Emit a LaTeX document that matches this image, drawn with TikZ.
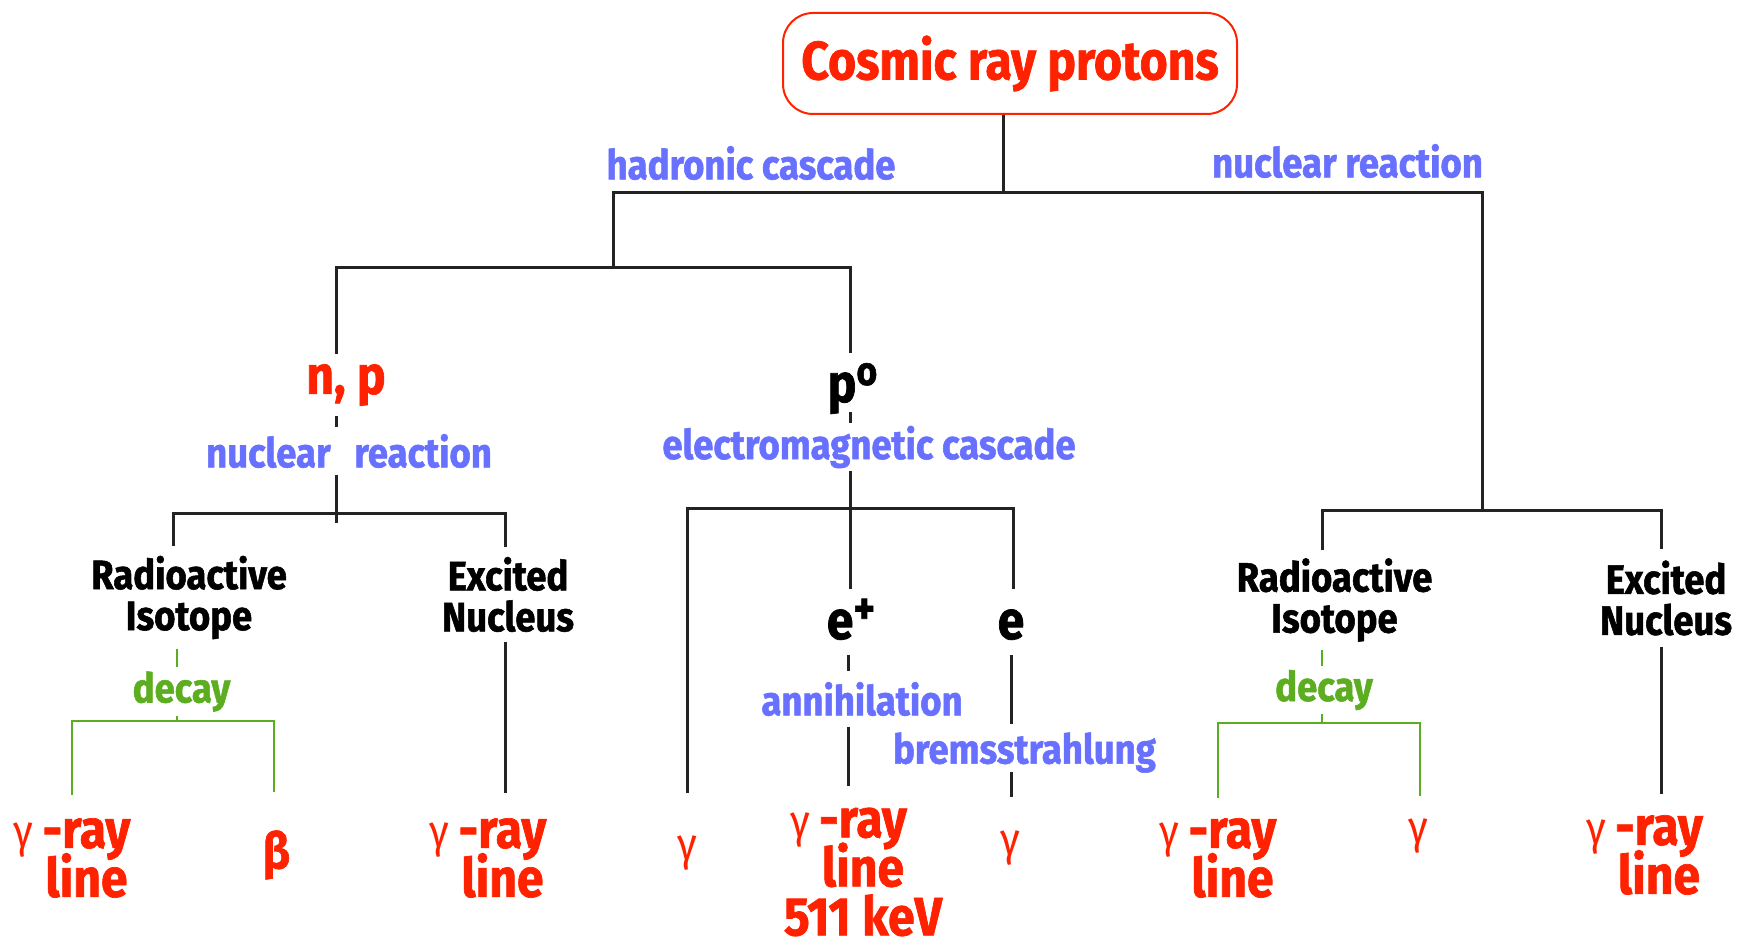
\documentclass[tikz,border=0pt]{standalone}
\usepackage{fontspec}
\setmainfont{Fira Sans}[FakeStretch=0.89, BoldFeatures={FakeBold=1.3}]
\definecolor{rd}{RGB}{255,34,0}
\definecolor{bl}{RGB}{104,112,255}
\definecolor{gr}{RGB}{92,174,32}
\definecolor{ln}{RGB}{35,35,35}
\newcommand{\gm}{{\fontsize{46}{46}\selectfont\mdseries γ}}
\setlength{\lineskiplimit}{-100pt}
\begin{document}
\begin{tikzpicture}[x=1pt,y=-1pt,
  big/.style={font=\fontsize{54}{49}\selectfont\bfseries, inner xsep=0pt, align=center},
  lab/.style={font=\fontsize{41}{41}\selectfont\bfseries, inner xsep=0pt, align=center},
  redt/.style={big, text=rd},
  blu/.style={lab, text=bl},
  blk/.style={lab, text=black},
  grn/.style={lab, text=gr},
  gam/.style={text=rd, inner xsep=0pt, font=\fontsize{46}{46}\selectfont\mdseries},
  wire/.style={draw=ln, line width=3pt},
  gwire/.style={draw=gr, line width=2.2pt}]
\useasboundingbox (0,0) rectangle (1737,944);

% title
\node[draw=rd, line width=2pt, rounded corners=30pt, minimum width=454pt, minimum height=101pt, big, text=rd] (title) at (1010,63.5) {Cosmic ray protons};

% labels
\node[blu, inner ysep=0pt] (hc) at (751,163) {hadronic cascade};
\node[blu, inner ysep=0pt] (nr) at (1347.5,161) {nuclear reaction};

\node[redt, inner ysep=10pt] (np) at (346,385) {n, p};
\node[blu, inner ysep=7pt] (nuc) at (349,451) {nuclear\hspace*{15pt} reaction};
\node[big, text=black, text depth=0pt, inner ysep=10pt] (p0) at (852.5,382.5) {p\raisebox{17pt}{\fontsize{40}{40}\selectfont o}};
\node[blu, inner ysep=3pt] (emc) at (869,447) {electromagnetic cascade};

\node[blk, inner ysep=10pt] (ri1) at (189,597.5) {Radioactive\\Isotope};
\node[blk, inner ysep=10pt] (en1) at (508,594.5) {Excited\\Nucleus};
\node[blk, inner ysep=8pt] (ri2) at (1334.5,600) {Radioactive\\Isotope};
\node[blk, inner ysep=11pt] (en2) at (1666,598) {Excited\\Nucleus};

\node[grn, inner ysep=4pt] (dec1) at (181.5,691.5) {decay};
\node[grn, inner ysep=4pt] (dec2) at (1324,690) {decay};

\node[big, text=black, text height=34pt, text depth=0pt, inner ysep=16pt] (ep) at (851,622) {e\raisebox{15pt}{\fontsize{46}{46}\selectfont +}};
\node[big, text=black, text height=34pt, text depth=0pt, inner ysep=16pt] (el) at (1011,622) {e};
\node[blu, inner ysep=11pt] (ann) at (862,699) {annihilation};
\node[blu, text depth=0pt, inner ysep=8pt] (brem) at (1024.5,748) {bremsstrahlung};

% bottom row
\node[redt, inner ysep=23pt] (gl1) at (86.5,858) {\llap{\gm\hspace{9pt}}-ray\\line};
\node[redt, font=\fontsize{50}{50}\selectfont\bfseries, inner ysep=38pt] (be) at (276.5,855) {β};
\node[redt, inner ysep=25pt] (gl2) at (502.5,858) {\llap{\gm\hspace{9pt}}-ray\\line};
\node[gam, inner ysep=43pt] (g1) at (687,853.5) {γ};
\node[redt, inner ysep=1pt] (gl5) at (863,872) {\llap{\gm\hspace{9pt}}-ray\\line\\511 keV};
\node[gam, inner ysep=34pt] (g3) at (1010,848.5) {γ};
\node[redt, inner ysep=20pt] (gl3) at (1232.5,858) {\llap{\gm\hspace{9pt}}-ray\\line};
\node[gam, inner ysep=23pt] (g4) at (1418,836.5) {γ};
\node[redt, inner ysep=21pt] (gl4) at (1659,855) {\llap{\gm\hspace{9pt}}-ray\\line};

% junction coordinates
\coordinate (jT) at (1003,193);
\coordinate (hL) at (613,193);
\coordinate (hR) at (1482,193);
\coordinate (aM) at (613,267);
\coordinate (aL) at (336,267);
\coordinate (aR) at (850,267);
\coordinate (bM) at (1482,510);
\coordinate (aO) at (336,523);
\coordinate (cA) at (173,513);
\coordinate (cB) at (505,513);
\coordinate (dX) at (177,721);
\coordinate (gA) at (72,721);
\coordinate (gB) at (274,721);
\coordinate (eA) at (687,508);
\coordinate (eB) at (1013,508);
\coordinate (eX) at (848,0);
\coordinate (fX) at (1011,0);
\coordinate (rA) at (1322,510);
\coordinate (rB) at (1661,510);
\coordinate (sX) at (1322,723);
\coordinate (sA) at (1218,723);
\coordinate (sB) at (1420,723);

% connectors
\draw[wire] (title.south -| jT) -- (jT);
\draw[wire] (aM) -- (hL) -- (hR) -- (bM);
\draw[wire] (aL |- np.north) -- (aL) -- (aR) -- (aR |- p0.north);
\draw[wire] (aL |- np.south) -- (aL |- nuc.north);
\draw[wire] (aL |- nuc.south) -- (aO);
\draw[wire] (cA |- ri1.north) -- (cA) -- (cB) -- (cB |- en1.north);
\draw[gwire] (dX |- ri1.south) -- (dX |- dec1.north);
\draw[gwire] (dX |- dec1.south) -- (dX);
\draw[gwire] (gA |- gl1.north) -- (gA) -- (gB) -- (gB |- be.north);
\draw[wire] (cB |- en1.south) -- (cB |- gl2.north);

\draw[wire] (aR |- p0.south) -- (aR |- emc.north);
\draw[wire] (aR |- emc.south) -- (aR |- ep.north);
\draw[wire] (g1.north -| eA) -- (eA) -- (eB) -- (eB |- el.north);
\draw[wire] (eX |- ep.south) -- (eX |- ann.north);
\draw[wire, shorten >=21pt] (eX |- ann.south) -- (eX |- gl5.north);
\draw[wire] (fX |- el.south) -- (fX |- brem.north);
\draw[wire] (fX |- brem.south) -- (fX |- g3.north);

\draw[wire] (rA |- ri2.north) -- (rA) -- (rB) -- (rB |- en2.north);
\draw[gwire] (sX |- ri2.south) -- (sX |- dec2.north);
\draw[gwire] (sX |- dec2.south) -- (sX);
\draw[gwire] (sA |- gl3.north) -- (sA) -- (sB) -- (sB |- g4.north);
\draw[wire] (rB |- en2.south) -- (rB |- gl4.north);
\end{tikzpicture}
\end{document}
